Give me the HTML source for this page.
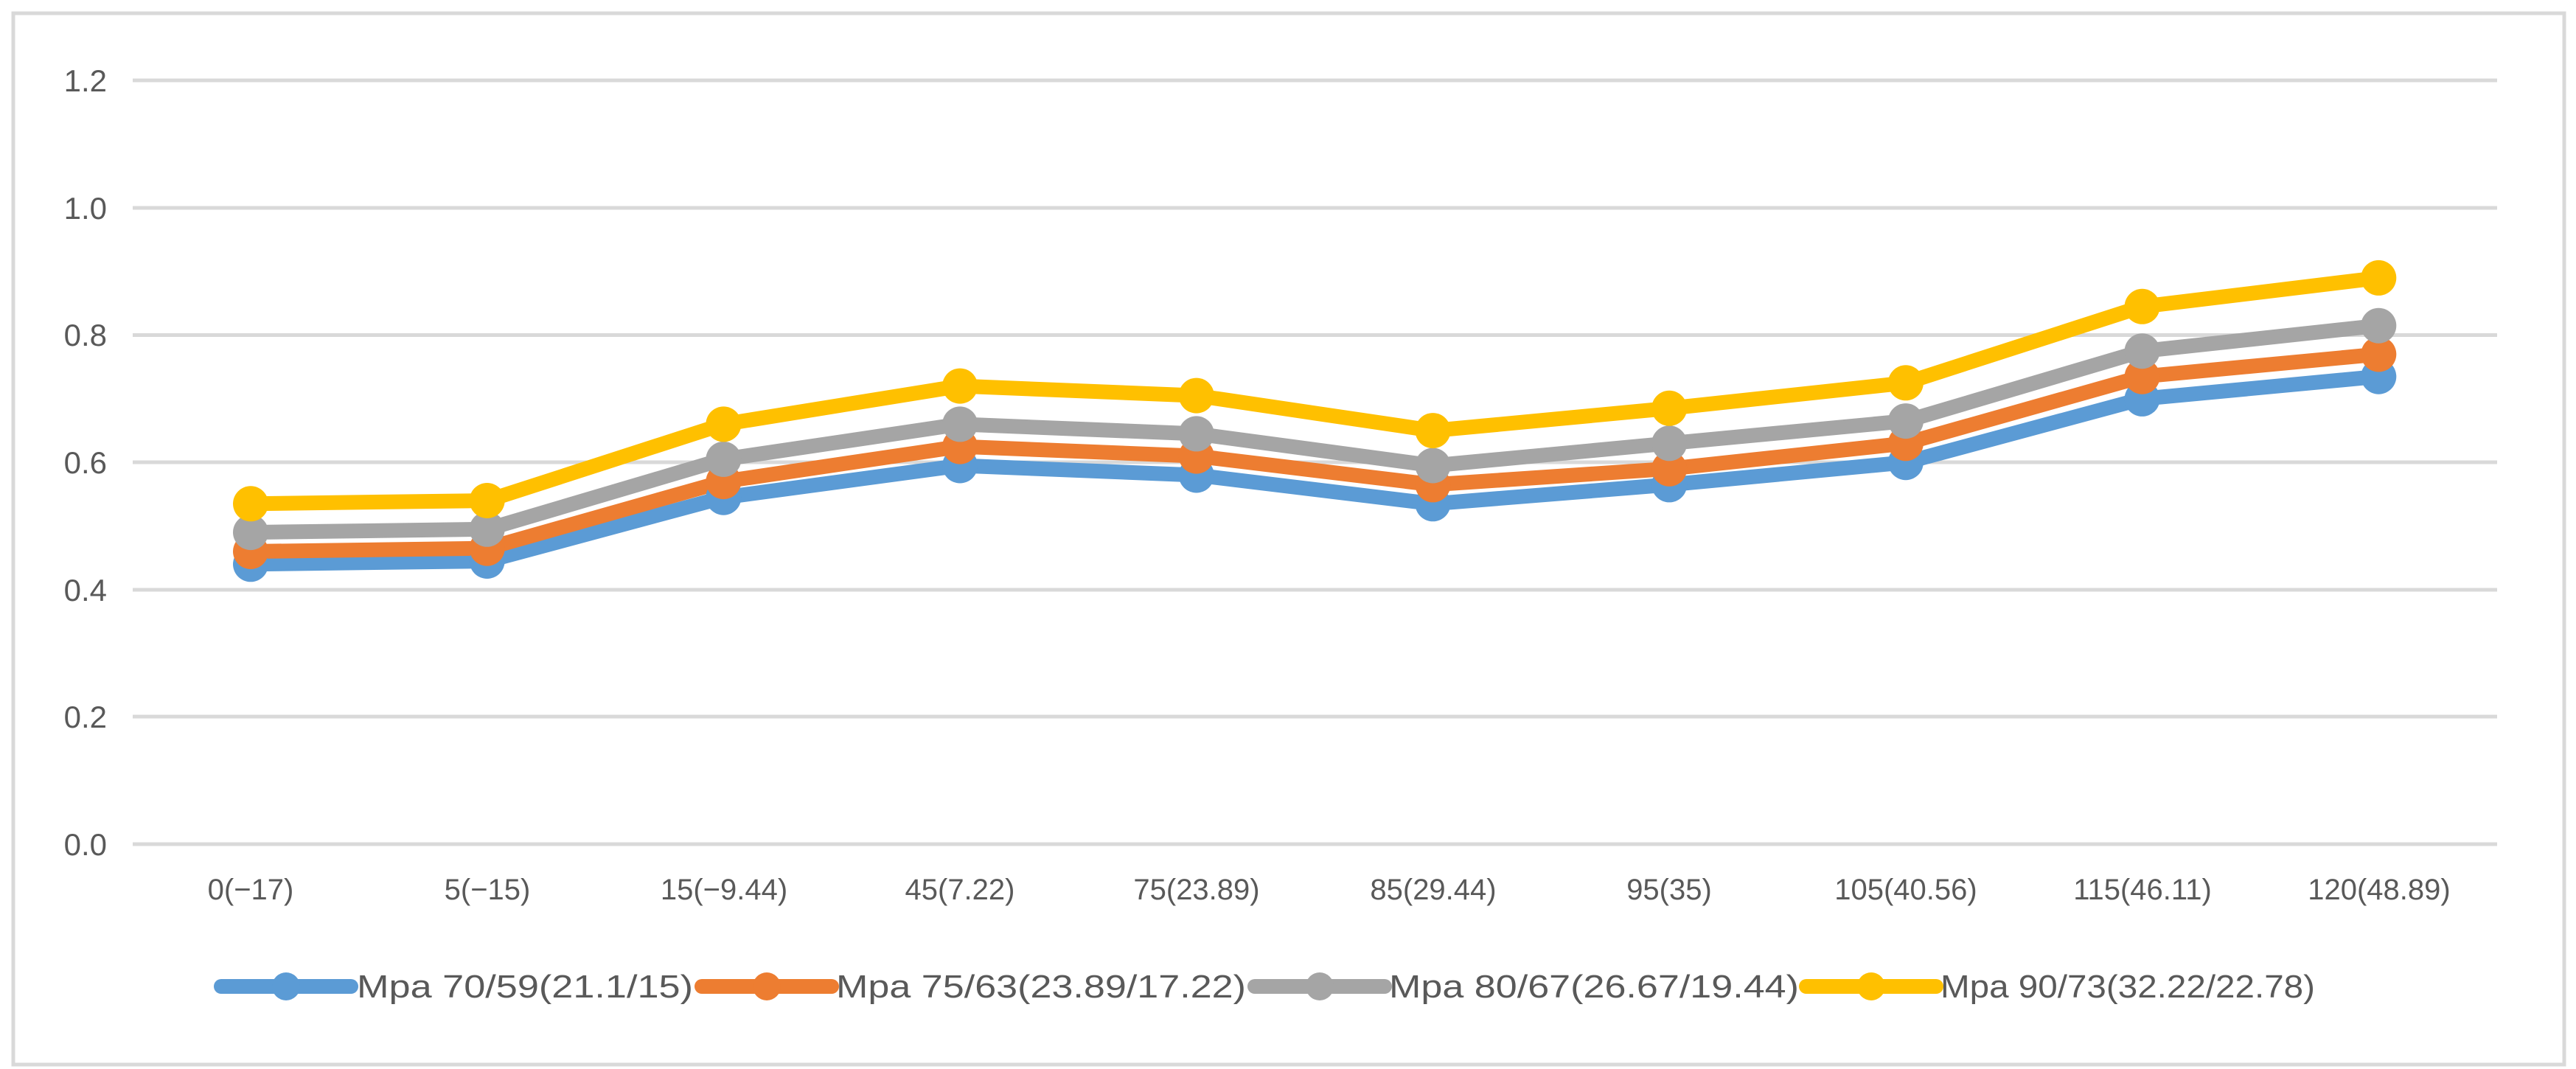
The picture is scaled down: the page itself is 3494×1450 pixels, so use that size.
<!DOCTYPE html>
<html><head><meta charset="utf-8"><style>
html,body{margin:0;padding:0;background:#fff;}
svg{display:block;}
text{font-family:"Liberation Sans",sans-serif;fill:#595959;}
</style></head><body>
<svg width="3494" height="1450" viewBox="0 0 3494 1450" xmlns="http://www.w3.org/2000/svg">
<rect x="0" y="0" width="3494" height="1450" fill="#fff"/>
<rect x="18" y="18" width="3460" height="1426" fill="none" stroke="#d9d9d9" stroke-width="5"/>
<g stroke="#d9d9d9" stroke-width="5">
<line x1="180" x2="3387" y1="109" y2="109"/>
<line x1="180" x2="3387" y1="282" y2="282"/>
<line x1="180" x2="3387" y1="454.5" y2="454.5"/>
<line x1="180" x2="3387" y1="627" y2="627"/>
<line x1="180" x2="3387" y1="800" y2="800"/>
<line x1="180" x2="3387" y1="972" y2="972"/>
<line x1="180" x2="3387" y1="1145" y2="1145"/>
</g>
<g font-size="42" text-anchor="end">
<text x="145" y="124">1.2</text>
<text x="145" y="297">1.0</text>
<text x="145" y="469">0.8</text>
<text x="145" y="642">0.6</text>
<text x="145" y="815">0.4</text>
<text x="145" y="987">0.2</text>
<text x="145" y="1160">0.0</text>
</g>
<g font-size="40" text-anchor="middle">
<text x="340" y="1220">0(−17)</text>
<text x="661" y="1220">5(−15)</text>
<text x="982" y="1220">15(−9.44)</text>
<text x="1302" y="1220">45(7.22)</text>
<text x="1623" y="1220">75(23.89)</text>
<text x="1944" y="1220">85(29.44)</text>
<text x="2264" y="1220">95(35)</text>
<text x="2585" y="1220">105(40.56)</text>
<text x="2906" y="1220">115(46.11)</text>
<text x="3227" y="1220">120(48.89)</text>
</g>
<g fill="none" stroke-width="20" stroke-linejoin="round">
<polyline stroke="#5b9bd5" points="340,765.3 660.7,761 981.4,674.7 1302.1,631.5 1622.8,644.5 1943.5,683.3 2264.2,657.4 2584.9,627.2 2905.6,540.9 3226.3,510.7"/>
<polyline stroke="#ed7d31" points="340,748 660.7,743.7 981.4,653.1 1302.1,605.6 1622.8,618.6 1943.5,657.4 2264.2,635.8 2584.9,601.3 2905.6,510.7 3226.3,480.5"/>
<polyline stroke="#a5a5a5" points="340,722.1 660.7,717.8 981.4,622.9 1302.1,575.4 1622.8,588.4 1943.5,631.5 2264.2,601.3 2584.9,571.1 2905.6,476.2 3226.3,441.7"/>
<polyline stroke="#ffc000" points="340,683.3 660.7,679 981.4,575.4 1302.1,523.6 1622.8,536.6 1943.5,584.1 2264.2,553.8 2584.9,519.3 2905.6,415.8 3226.3,376.9"/>
</g>
<g fill="#5b9bd5">
<circle cx="340" cy="765.3" r="24"/><circle cx="660.7" cy="761" r="24"/><circle cx="981.4" cy="674.7" r="24"/><circle cx="1302.1" cy="631.5" r="24"/><circle cx="1622.8" cy="644.5" r="24"/><circle cx="1943.5" cy="683.3" r="24"/><circle cx="2264.2" cy="657.4" r="24"/><circle cx="2584.9" cy="627.2" r="24"/><circle cx="2905.6" cy="540.9" r="24"/><circle cx="3226.3" cy="510.7" r="24"/>
</g>
<g fill="#ed7d31">
<circle cx="340" cy="748" r="24"/><circle cx="660.7" cy="743.7" r="24"/><circle cx="981.4" cy="653.1" r="24"/><circle cx="1302.1" cy="605.6" r="24"/><circle cx="1622.8" cy="618.6" r="24"/><circle cx="1943.5" cy="657.4" r="24"/><circle cx="2264.2" cy="635.8" r="24"/><circle cx="2584.9" cy="601.3" r="24"/><circle cx="2905.6" cy="510.7" r="24"/><circle cx="3226.3" cy="480.5" r="24"/>
</g>
<g fill="#a5a5a5">
<circle cx="340" cy="722.1" r="24"/><circle cx="660.7" cy="717.8" r="24"/><circle cx="981.4" cy="622.9" r="24"/><circle cx="1302.1" cy="575.4" r="24"/><circle cx="1622.8" cy="588.4" r="24"/><circle cx="1943.5" cy="631.5" r="24"/><circle cx="2264.2" cy="601.3" r="24"/><circle cx="2584.9" cy="571.1" r="24"/><circle cx="2905.6" cy="476.2" r="24"/><circle cx="3226.3" cy="441.7" r="24"/>
</g>
<g fill="#ffc000">
<circle cx="340" cy="683.3" r="24"/><circle cx="660.7" cy="679" r="24"/><circle cx="981.4" cy="575.4" r="24"/><circle cx="1302.1" cy="523.6" r="24"/><circle cx="1622.8" cy="536.6" r="24"/><circle cx="1943.5" cy="584.1" r="24"/><circle cx="2264.2" cy="553.8" r="24"/><circle cx="2584.9" cy="519.3" r="24"/><circle cx="2905.6" cy="415.8" r="24"/><circle cx="3226.3" cy="376.9" r="24"/>
</g>
<g font-size="44">
<line x1="300" x2="476" y1="1338" y2="1338" stroke="#5b9bd5" stroke-width="20" stroke-linecap="round"/>
<circle cx="388" cy="1338" r="19" fill="#5b9bd5"/>
<text x="484" y="1353" textLength="456" lengthAdjust="spacingAndGlyphs">Mpa 70/59(21.1/15)</text>
<line x1="952" x2="1128" y1="1338" y2="1338" stroke="#ed7d31" stroke-width="20" stroke-linecap="round"/>
<circle cx="1040" cy="1338" r="19" fill="#ed7d31"/>
<text x="1134" y="1353" textLength="556" lengthAdjust="spacingAndGlyphs">Mpa 75/63(23.89/17.22)</text>
<line x1="1702" x2="1878" y1="1338" y2="1338" stroke="#a5a5a5" stroke-width="20" stroke-linecap="round"/>
<circle cx="1790" cy="1338" r="19" fill="#a5a5a5"/>
<text x="1884" y="1353" textLength="556" lengthAdjust="spacingAndGlyphs">Mpa 80/67(26.67/19.44)</text>
<line x1="2450" x2="2626" y1="1338" y2="1338" stroke="#ffc000" stroke-width="20" stroke-linecap="round"/>
<circle cx="2538" cy="1338" r="19" fill="#ffc000"/>
<text x="2632" y="1353" textLength="508" lengthAdjust="spacingAndGlyphs">Mpa 90/73(32.22/22.78)</text>
</g>
</svg>
</body></html>
